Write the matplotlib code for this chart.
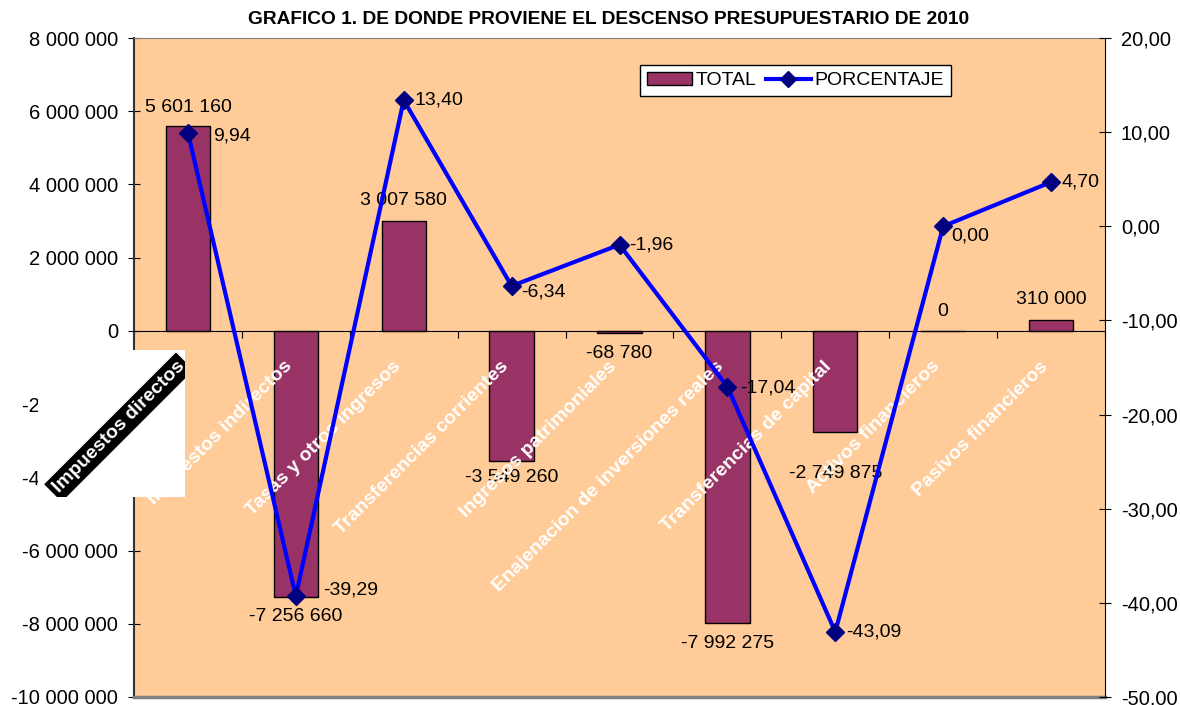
import matplotlib.pyplot as plt
from matplotlib.patches import Rectangle
from matplotlib.lines import Line2D
from matplotlib.ticker import FuncFormatter

plt.rcParams['font.family'] = ['Liberation Sans', 'DejaVu Sans']

## datos del grafico ##
categorias = ["Impuestos directos", "Impuestos indirectos", "Tasas y otros ingresos",
              "Transferencias corrientes", "Ingresos patrimoniales",
              "Enajenacion de inversiones reales", "Transferencias de capital",
              "Activos financieros", "Pasivos financieros"]
total = [5601160, -7256660, 3007580, -3549260, -68780, -7992275, -2749875, 0, 310000]
porcentaje = [9.94, -39.29, 13.40, -6.34, -1.96, -17.04, -43.09, 0.00, 4.70]

## ajustes manuales de etiquetas (pixeles) ##
total_dy = [18, -20, 20, -17, -20, -20, -42, 19, 20]
pct_off = [(25, -3), (27, 6), (11, 0), (10, -6), (10, 0), (13, -1), (11, 0), (8, -10), (10, 0)]

W, H = 1180, 705
fig = plt.figure(figsize=(W / 100, H / 100), dpi=100)
ax = fig.add_axes([134 / W, 8 / H, 971 / W, 659 / H])
ax.set_facecolor("#FFCC99")

x = list(range(len(categorias)))
bars = ax.bar(x, total, width=0.41, color="#993366", edgecolor="black", linewidth=1, zorder=2)
ax.set_xlim(-0.5, len(categorias) - 0.5)
ax.set_ylim(-10000000, 8000000)
ax.set_yticks(range(-10000000, 8000001, 2000000))
ax.yaxis.set_major_formatter(FuncFormatter(lambda v, p: f"{v:,.0f}".replace(",", " ")))
ax.tick_params(axis="y", direction="inout", length=9, labelsize=14.5, pad=7)

ax.spines["bottom"].set_position(("data", 0))
ax.spines["bottom"].set_color("black")
ax.spines["top"].set_color("#808080")
ax.spines["left"].set_color("#333333")
ax.spines["left"].set_linewidth(1.5)
ax.spines["right"].set_visible(False)
ax.set_xticks([i - 0.5 for i in range(len(categorias) + 1)])
ax.set_xticklabels([])
ax.tick_params(axis="x", direction="out", length=5)
ax.plot([0, 1], [0, 0], transform=ax.transAxes, color="#808080", lw=2.5, clip_on=False, zorder=5)

for i, (v, dy) in enumerate(zip(total, total_dy)):
    ax.annotate(f"{v:,.0f}".replace(",", " "), (i, v), xytext=(0, dy), textcoords="offset pixels",
                ha="center", va="center", fontsize=14, zorder=3)

for i, name in enumerate(categorias[1:], start=1):
    ax.annotate(name, (i, 0), xytext=(-6, -33), textcoords="offset pixels",
                ha="right", va="center", rotation=45, rotation_mode="anchor",
                fontsize=14, fontweight="bold", color="white", zorder=3)

## eje derecho: porcentaje ##
ax2 = ax.twinx()
ax2.set_ylim(-50, 20)
ax2.set_yticks(range(-50, 21, 10))
ax2.yaxis.set_major_formatter(FuncFormatter(lambda v, p: f"{v:.2f}".replace(".", ",")))
ax2.tick_params(axis="y", direction="inout", length=9, labelsize=14.5, pad=7)
for s in ["top", "bottom", "left"]:
    ax2.spines[s].set_visible(False)
ax2.spines["right"].set_color("black")

ax2.plot(x, porcentaje, color="#0000FF", lw=3, marker="D", markersize=9,
         markerfacecolor="#000080", markeredgecolor="#000080", zorder=4)
for i, (p, (dx, dy)) in enumerate(zip(porcentaje, pct_off)):
    ax2.annotate(f"{p:.2f}".replace(".", ","), (i, p), xytext=(dx, dy), textcoords="offset pixels",
                 ha="left", va="center", fontsize=14, zorder=5)

handles = [Rectangle((0, 0), 1, 1, facecolor="#993366", edgecolor="black"),
           Line2D([], [], color="#0000FF", lw=3, marker="D", markersize=8,
                  markerfacecolor="#000080", markeredgecolor="#000080")]
leg = ax2.legend(handles, ["TOTAL", "PORCENTAJE"], ncol=2, loc="upper left",
                 bbox_to_anchor=(640 / W, 1 - 65 / H), bbox_transform=fig.transFigure,
                 fontsize=14, frameon=True, fancybox=False, shadow=False, framealpha=1,
                 edgecolor="black", facecolor="white", borderpad=0.35, handlelength=2.3,
                 handletextpad=0.2, columnspacing=0.5, borderaxespad=0)
leg.get_frame().set_linewidth(1)

fig.text(609 / W, 1 - 20 / H, "GRAFICO 1. DE DONDE PROVIENE EL DESCENSO PRESUPUESTARIO DE 2010",
         ha="center", va="center", fontsize=13.8, fontweight="bold")

## recuadro blanco con la primera etiqueta ##
rect = Rectangle((38 / W, 1 - 497 / H), 147 / W, 147 / H, transform=fig.transFigure,
                 facecolor="white", edgecolor="none", zorder=10)
fig.add_artist(rect)
t = fig.text(182 / W, 1 - 364 / H, categorias[0], ha="right", va="center", rotation=45,
             rotation_mode="anchor", fontsize=14, fontweight="bold", color="white", zorder=11,
             bbox=dict(boxstyle="square,pad=0.2", facecolor="black", edgecolor="none"))
t.set_clip_path(rect)

fig.savefig("out.png", dpi=100)
